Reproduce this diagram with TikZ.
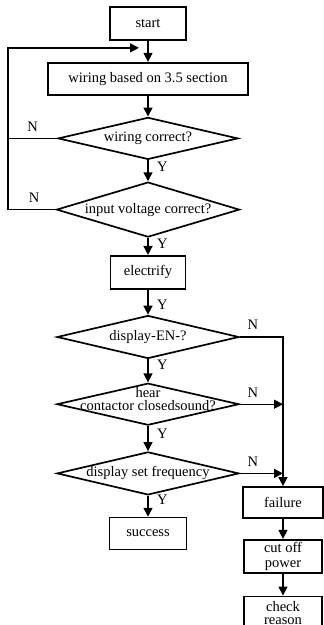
\documentclass[tikz,border=0pt]{standalone}
\usepackage{fontspec}
\setmainfont{Liberation Serif}
\usetikzlibrary{arrows.meta,positioning,shapes.geometric}

\begin{document}
\begin{tikzpicture}[x=1pt,y=-1pt,>={Triangle[length=9pt,width=9pt]},
  font=\fontsize{14.5}{16}\selectfont,
  stepbox/.style={draw,line width=1.7pt,inner sep=0pt,align=center,minimum height=33pt},
  decide/.style={draw,diamond,line width=1.7pt,inner sep=0pt,minimum width=182pt,minimum height=43pt},
  flow/.style={line width=1.4pt},
  yes/.style={right,xshift=5pt},
  no/.style={above,yshift=3pt}]
\useasboundingbox (0,0) rectangle (324,625);
\node[stepbox,minimum width=76pt] (start) at (148,23.5) {start};
\node[stepbox,minimum width=200pt,minimum height=32pt,below=21pt of start] (wiring) {wiring based on 3.5 section};
\node[decide,minimum width=180pt,minimum height=42pt,below=21pt of wiring,
  label={center:wiring correct?}] (wirok) {};
\node[decide,minimum width=183pt,minimum height=55pt,below=21pt of wirok,
  label={center:input voltage correct?}] (voltok) {};
\node[stepbox,minimum width=75pt,below=17pt of voltok] (power) {electrify};
\node[decide,below=25pt of power,label={center:display-EN-?}] (dispen) {};
\node[decide,minimum height=42pt,below=23pt of dispen,
  label={[align=center,yshift=5pt]center:hear\\[-3pt]contactor closedsound?}] (sound) {};
\node[decide,below=25pt of sound,label={center:display set frequency}] (freq) {};
\node[stepbox,minimum width=77pt,minimum height=32pt,below=21pt of freq] (success) {success};
\node[stepbox,minimum width=80pt,minimum height=31pt] (fail) at (283,502.5) {failure};
\node[stepbox,minimum width=78pt,below=20pt of fail] (cutoff) {cut off\\[-1pt]power};
\node[stepbox,minimum width=78pt,minimum height=34pt,below=22pt of cutoff] (check) {check\\[-3pt]reason};
\coordinate (lft) at (8,0);
\coordinate[below left=7pt and 9pt of start.south] (ret);
% main line
\draw[flow,->] (start) -- (wiring);
\draw[flow,->] (wiring) -- (wirok);
\draw[flow,->] (wirok) -- node[yes,pos=.33] {Y} (voltok);
\draw[flow,->] (voltok) -- node[yes,pos=.35] {Y} (power);
\draw[flow,->] (power) -- node[yes,pos=.6] {Y} (dispen);
\draw[flow,->] (dispen) -- node[yes,pos=.22] {Y} (sound);
\draw[flow,->] (sound) -- node[yes,pos=.32] {Y} (freq);
\draw[flow,->] (freq) -- node[yes,pos=.2] {Y} (success);
% back to wiring
\draw[flow] (wirok.west) -- node[no] {N} (wirok.west -| lft);
\draw[flow,->] (voltok.west) -- node[no,pos=.45] {N} (voltok.west -| lft) |- (ret);
% failure branch
\draw[flow,->] (dispen.east) -| node[no,pos=.15] {N} (fail.north);
\draw[flow,->] (sound.east) -- node[no,pos=.3] {N} (sound.east -| fail);
\draw[flow,->] (freq.east) -- node[no,pos=.3] {N} (freq.east -| fail);
\draw[flow,->] (fail) -- (cutoff);
\draw[flow,->] (cutoff) -- (check);
\end{tikzpicture}
\end{document}
